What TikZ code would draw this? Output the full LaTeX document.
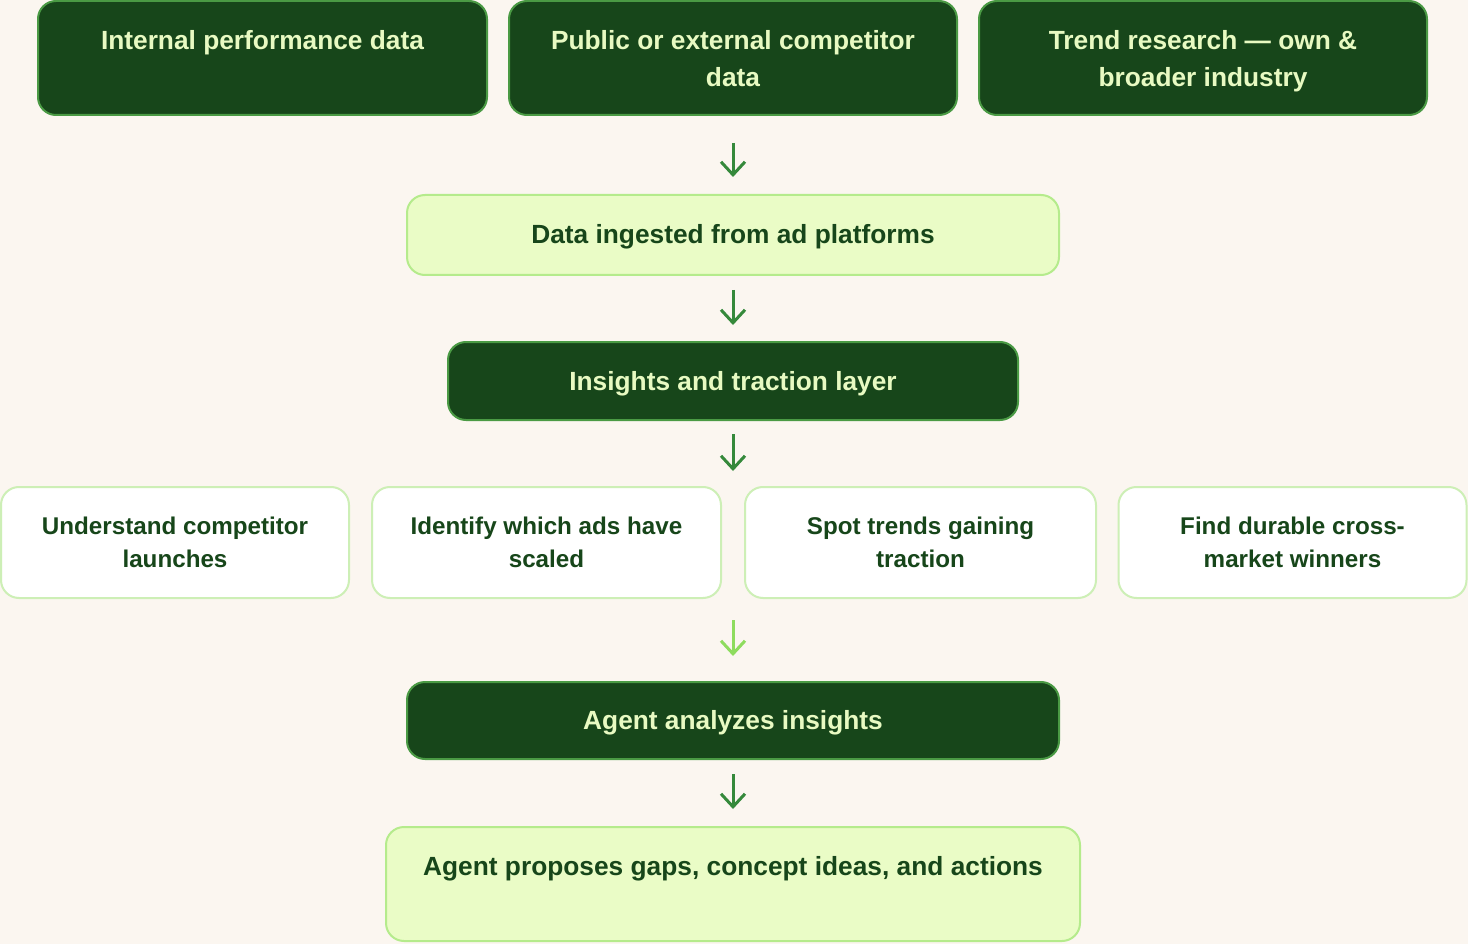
\documentclass[tikz,border=0pt]{standalone}
\usepackage{fontspec}
\setmainfont{Liberation Sans}
\usetikzlibrary{arrows.meta}
\definecolor{bgc}{HTML}{FBF6F0}
\definecolor{darkfill}{HTML}{17461A}
\definecolor{darkborder}{HTML}{4A9A44}
\definecolor{lighttext}{HTML}{E8FAC2}
\definecolor{lightfill}{HTML}{EAFCC6}
\definecolor{lightborder}{HTML}{B5EB8C}
\definecolor{whiteborder}{HTML}{CDEFB6}
\definecolor{arrowdark}{HTML}{35893B}
\definecolor{arrowlight}{HTML}{8EDC5E}
\tikzset{
  darkbox/.style={draw=darkborder, line width=2pt, fill=darkfill, rounded corners=18pt, inner sep=0pt,
    text=lighttext, font=\bfseries\fontsize{26.3}{37}\selectfont, align=center},
  lightbox/.style={draw=lightborder, line width=2pt, fill=lightfill, rounded corners=18pt, inner sep=0pt,
    text=darkfill, font=\bfseries\fontsize{26.3}{37}\selectfont, align=center},
  whitebox/.style={draw=whiteborder, line width=2pt, fill=white, rounded corners=18pt, inner sep=0pt,
    text=darkfill, font=\bfseries\fontsize{24.2}{33}\selectfont, align=center},
  oneline/.style={text height=23.5pt, text depth=5.5pt},
  darktxt/.style={text=lighttext, font=\bfseries\fontsize{26.3}{37}\selectfont, align=center, inner sep=0pt, anchor=north},
  lighttxt/.style={text=darkfill, font=\bfseries\fontsize{26.3}{37}\selectfont, align=center, inner sep=0pt, anchor=north},
  flow/.style={draw=arrowdark, line width=3pt, -{Straight Barb[length=13pt,width=24pt,line width=3pt]}},
  flowlight/.style={flow, draw=arrowlight},
}
\begin{document}
\begin{tikzpicture}[x=1pt,y=-1pt]
\fill[bgc] (0,0) rectangle (1468,944);
\useasboundingbox (0,0) rectangle (1468,944);

% top row
\node[darkbox, minimum width=449pt, minimum height=114pt] (in1) at (262.5,58) {};
\node[darkbox, minimum width=448pt, minimum height=114pt] (in2) at (733,58) {};
\node[darkbox, minimum width=448pt, minimum height=114pt] (in3) at (1203,58) {};
\node[darktxt] (t1) at ([yshift=-30pt]in1.north) {Internal performance data};
\node[darktxt] (t2) at ([yshift=-30pt]in2.north) {Public or external competitor\\data};
\node[darktxt] (t3) at ([yshift=-30pt]in3.north) {Trend research — own \&\\broader industry};

% middle
\node[lightbox, oneline, minimum width=652pt, minimum height=80pt] (ing) at (733,235) {Data ingested from ad platforms};
\node[darkbox, oneline, minimum width=570pt, minimum height=78pt] (ins) at (733,381) {Insights and traction layer};

% white row
\node[whitebox, minimum width=348pt, minimum height=111pt] (u1) at (175,542.5) {Understand competitor\\launches};
\node[whitebox, minimum width=349pt, minimum height=111pt] (u2) at (546.5,542.5) {Identify which ads have\\scaled};
\node[whitebox, minimum width=351pt, minimum height=111pt] (u3) at (920.5,542.5) {Spot trends gaining\\traction};
\node[whitebox, minimum width=348pt, minimum height=111pt] (u4) at (1292.5,542.5) {Find durable cross-\\market winners};
\coordinate (rowtop) at (733,487);
\coordinate (rowbot) at (733,598);

% bottom
\node[darkbox, oneline, minimum width=652pt, minimum height=77pt] (ana) at (733,720.5) {Agent analyzes insights};
\node[lightbox, minimum width=694pt, minimum height=114pt] (prop) at (733,884) {};
\node[lighttxt] (tp) at ([yshift=-30pt]prop.north) {Agent proposes gaps, concept ideas, and actions};

% arrows
\draw[flow, shorten <=27pt, shorten >=17pt] (in2.south) -- (ing.north);
\draw[flow, shorten <=14pt, shorten >=16pt] (ing.south) -- (ins.north);
\draw[flow, shorten <=13pt, shorten >=16pt] (ins.south) -- (rowtop);
\draw[flowlight, shorten <=22pt, shorten >=25pt] (rowbot) -- (ana.north);
\draw[flow, shorten <=14pt, shorten >=17pt] (ana.south) -- (prop.north);
\end{tikzpicture}
\end{document}
